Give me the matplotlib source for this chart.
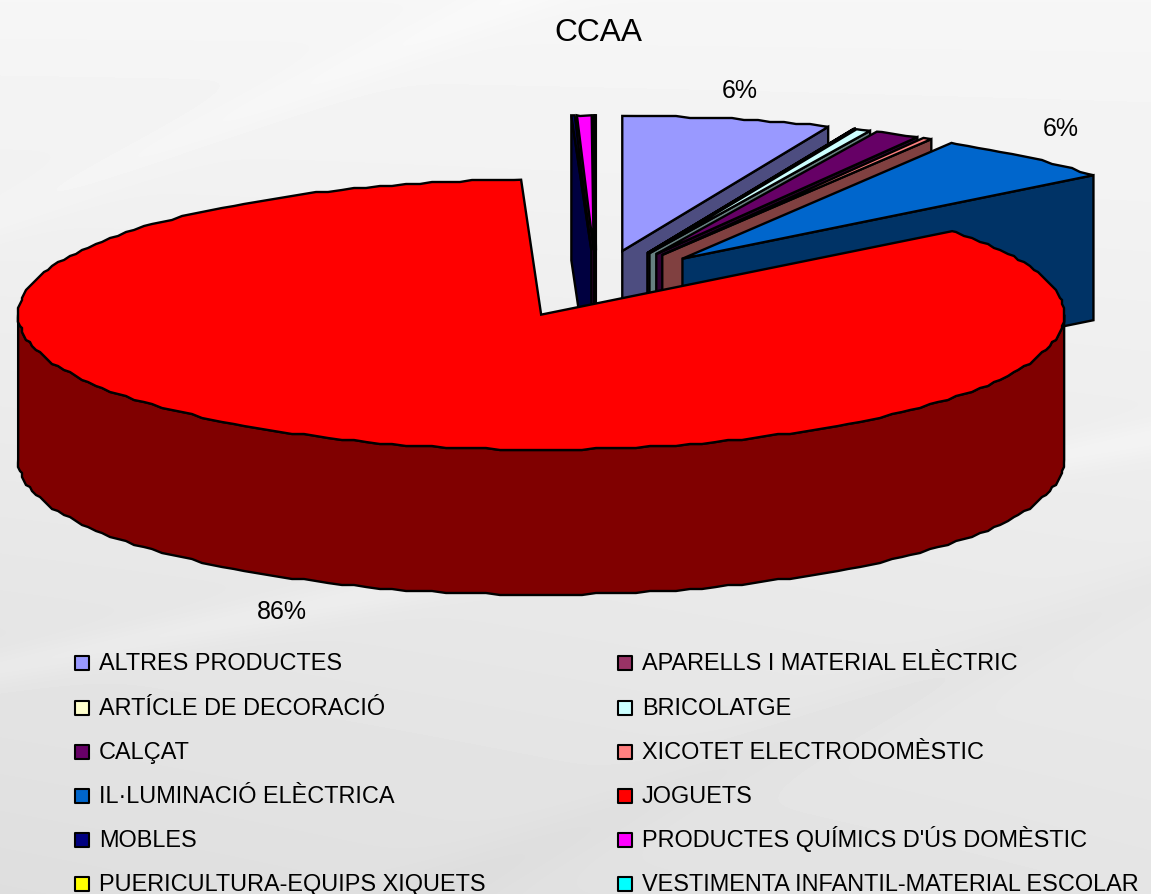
import numpy as np
import matplotlib
matplotlib.use('Agg')
import matplotlib.pyplot as plt

plt.rcParams['font.family'] = ['Liberation Sans', 'DejaVu Sans']

# dades llegides del grafic (%), en sentit horari des de les 12
categories = ['ALTRES PRODUCTES', 'APARELLS I MATERIAL ELÈCTRIC', 'ARTÍCLE DE DECORACIÓ', 'BRICOLATGE',
              'CALÇAT', 'XICOTET ELECTRODOMÈSTIC', 'IL·LUMINACIÓ ELÈCTRICA', 'JOGUETS',
              'MOBLES', "PRODUCTES QUÍMICS D'ÚS DOMÈSTIC", 'PUERICULTURA-EQUIPS XIQUETS',
              'VESTIMENTA INFANTIL-MATERIAL ESCOLAR']
values = [6.44, 0.02, 0.02, 0.45, 1.39, 0.28, 5.79, 85.00, 0.10, 0.45, 0.03, 0.03]
colors = ['#9999FF', '#993366', '#FFFFCC', '#CCFFFF', '#660066', '#FF8080',
          '#0066CC', '#FF0000', '#000080', '#FF00FF', '#FFFF00', '#00FFFF']
title = 'CCAA'
pct_labels = ['6%', '6%', '86%']

# geometria del pastis 3D en pixels
cx, cy = 596, 284
rx, ry = 523, 135
depth = 145
explode = 0.25

fig = plt.figure(figsize=(11.51, 8.94), dpi=100)
ax = fig.add_axes([0, 0, 1, 1])
ax.set_xlim(0, 1151)
ax.set_ylim(894, 0)
ax.axis('off')

# fons gris amb franges suaus
yy, xx = np.mgrid[0:894, 0:1151]
bg = 0.965 - 0.07 * (yy / 894) - 0.025 * (1 - xx / 1151) * (yy / 894)
for x0, y0, slope, width, amp in [(0, 215, -0.42, 22, 0.012), (0, 668, -0.20, 18, 0.022),
                                  (1151, 590, -0.42, 30, -0.014)]:
    d = yy - (y0 + slope * (xx - x0))
    bg = bg + amp * np.exp(-(d / width) ** 2)
ax.imshow(bg, cmap='gray', vmin=0, vmax=1, extent=(0, 1151, 894, 0), aspect='auto', zorder=0)


def shade(col):
    r, g, b = matplotlib.colors.to_rgb(col)
    return (r * 0.5, g * 0.5, b * 0.5)


def arc(x0, y0, a1, a2):
    # a1 > a2. Punts sobre una malla fixa d'angles i arrodonits: el contorn original es veu esglaonat
    step = 1.5
    grid = np.arange(np.ceil(a2 / step), np.floor(a1 / step) + 1) * step
    grid = grid[(grid > a2) & (grid < a1)][::-1]
    t = np.radians(np.r_[a1, grid, a2])
    xs = x0 + rx * np.cos(t)
    ys = y0 - ry * np.sin(t)
    xs[1:-1] = np.round(xs[1:-1] / 2) * 2
    ys[1:-1] = np.round(ys[1:-1] / 2) * 2
    return xs, ys


def draw_slice(start, end, col, z):
    # start > end, angles en graus en sentit antihorari
    mid = np.radians((start + end) / 2)
    x0 = cx + explode * rx * np.cos(mid)
    y0 = cy - explode * ry * np.sin(mid)
    dark = shade(col)
    span = start - end
    style = dict(edgecolor='black', linewidth=1.7, joinstyle='miter', zorder=z)
    if span < 180:
        for a, visible in ((end, np.cos(np.radians(end)) > 0), (start, np.cos(np.radians(start)) < 0)):
            if visible:
                px = x0 + rx * np.cos(np.radians(a))
                py = y0 - ry * np.sin(np.radians(a))
                ax.fill([x0, px, px, x0], [y0, py, py + depth, y0 + depth], facecolor=dark, **style)
    # paret exterior, nomes la part de davant
    lo, hi = max(end, -180), min(start, 0)
    if hi > lo:
        xs, ys = arc(x0, y0, hi, lo)
        ax.fill(np.r_[xs, xs[::-1]], np.r_[ys, ys[::-1] + depth], facecolor=dark, **style)
    xs, ys = arc(x0, y0, start, end)
    ax.fill(np.r_[x0, xs], np.r_[y0, ys], facecolor=col, **style)


total = sum(values)
angles = 90 - np.cumsum([0] + values) / total * 360
# ordre de dibuix: del fons cap al davant, JOGUETS l'ultim
order = [11, 10, 9, 8, 0, 1, 2, 3, 4, 5, 6, 7]
for z, i in enumerate(order):
    draw_slice(angles[i], angles[i + 1], colors[i], 2 + z)

ax.text(598, 41, title, ha='center', va='baseline', fontsize=22.8, zorder=30)
ax.text(740, 98, pct_labels[0], ha='center', va='baseline', fontsize=18, zorder=30)
ax.text(1061, 136, pct_labels[1], ha='center', va='baseline', fontsize=18, zorder=30)
ax.text(282, 619, pct_labels[2], ha='center', va='baseline', fontsize=18, zorder=30)

# llegenda: dues columnes, sis fileres
rows = [670, 715, 759, 803, 847, 891]
for i, (name, col) in enumerate(zip(categories, colors)):
    mx = 82 if i % 2 == 0 else 625
    base = rows[i // 2]
    ax.scatter([mx], [base - 7], marker='s', s=90, facecolor=col, edgecolor='black', linewidth=1.5, zorder=30)
    ax.text(mx + 17, base, name, ha='left', va='baseline', fontsize=16.9, zorder=30)

fig.savefig('out.png', dpi=100)
